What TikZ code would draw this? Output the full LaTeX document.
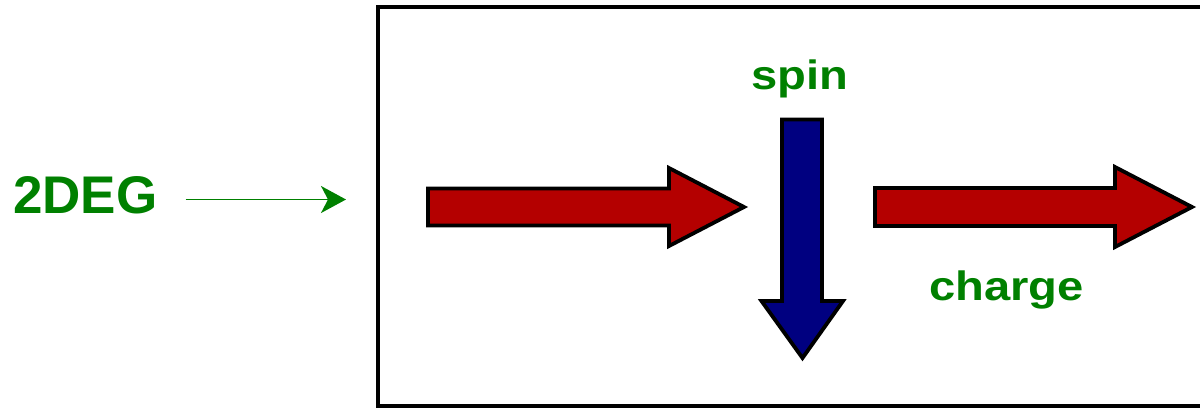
\documentclass[tikz,border=0pt]{standalone}
\usepackage{fontspec}
\usepackage{graphicx}
\setmainfont{Liberation Sans}
\usetikzlibrary{arrows.meta}
\definecolor{lblgreen}{RGB}{0,128,0}
\definecolor{chargered}{RGB}{180,0,0}
\definecolor{spinblue}{RGB}{0,0,128}
\tikzset{
  lbl/.style={text=lblgreen, font=\bfseries, inner sep=0pt},
  blockarrow/.style={draw=black, line width=3.8pt, miter limit=10},
  conn/.style={draw=lblgreen, line width=1.8pt, -{Stealth[length=25pt,width=27pt,inset=7pt]}},
  frame/.style={draw=black, line width=4pt}
}
\begin{document}
\begin{tikzpicture}[x=1pt,y=-1pt]
\clip (0,0) rectangle (1200,408);
% frame (right side runs off the picture)
\draw[frame] (1220,7) -- (378,7) -- (378,406) -- (1220,406);
% label 2DEG and its connector
\node[lbl, anchor=base west] (deg) at (13,213) {\fontsize{53}{60}\selectfont 2DEG};
\coordinate (arrowend) at (346,199.5);
\draw[conn, shorten <=28pt] (deg.east |- arrowend) -- (arrowend);
% red arrow 1
\filldraw[blockarrow, fill=chargered]
  (428,188.5) -- (669,188.5) -- (669,168) -- (744,207) -- (669,246) -- (669,225.5) -- (428,225.5) -- cycle;
% red arrow 2
\filldraw[blockarrow, fill=chargered]
  (875,188) -- (1115,188) -- (1115,167) -- (1192,207) -- (1115,247) -- (1115,226) -- (875,226) -- cycle;
% blue arrow
\filldraw[blockarrow, fill=spinblue]
  (782,119.5) -- (822,119.5) -- (822,301) -- (843,301) -- (802.5,358) -- (761.5,301) -- (782,301) -- cycle;
% labels
\node[lbl, anchor=base] (spin) at (799.5,89.5) {\scalebox{1.15}[1]{\fontsize{41}{48}\selectfont spin}};
\node[lbl, anchor=base] (charge) at (1006.5,300) {\scalebox{1.15}[1]{\fontsize{41}{48}\selectfont charge}};
\end{tikzpicture}
\end{document}
